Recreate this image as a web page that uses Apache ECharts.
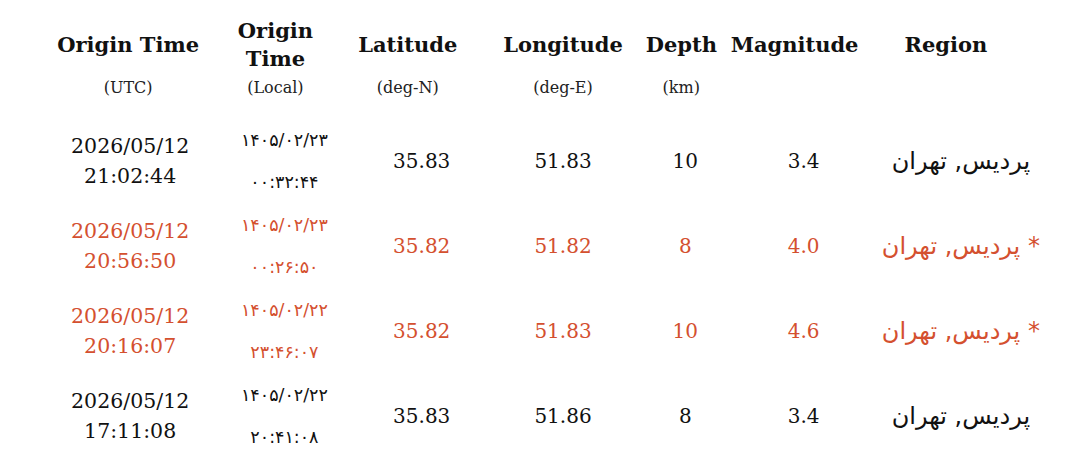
<!DOCTYPE html>
<html><head><meta charset="utf-8">
<script src="https://cdn.jsdelivr.net/npm/echarts@6/dist/echarts.min.js"></script>
<style>html,body{margin:0;padding:0;background:#fff}#c{width:1080px;height:472px}</style>
</head><body><div id="c"></div>
<script>
// ---- data ----
const columns = ['utc', 'local', 'lat', 'lon', 'depth', 'mag', 'region'];
const headerTitles = ['Origin Time', 'Origin\nTime', 'Latitude', 'Longitude', 'Depth', 'Magnitude', 'Region'];
const headerUnits = ['(UTC)', '(Local)', '(deg-N)', '(deg-E)', '(km)', '', ''];
const rowIds = ['e1', 'e2', 'e3', 'e4'];
const utcDates = ['2026/05/12', '2026/05/12', '2026/05/12', '2026/05/12'];
const utcTimes = ['21:02:44', '20:56:50', '20:16:07', '17:11:08'];
const localDates = ['۱۴۰۵/۰۲/۲۳', '۱۴۰۵/۰۲/۲۳', '۱۴۰۵/۰۲/۲۲', '۱۴۰۵/۰۲/۲۲'];
const localTimes = ['۰۰:۳۲:۴۴', '۰۰:۲۶:۵۰', '۲۳:۴۶:۰۷', '۲۰:۴۱:۰۸'];
const latitudes = [35.83, 35.82, 35.82, 35.83];
const longitudes = [51.83, 51.82, 51.83, 51.86];
const depths = [10, 8, 10, 8];
const magnitudes = [3.4, 4.0, 4.6, 3.4];
const regions = ['پردیس, تهران', 'پردیس, تهران', 'پردیس, تهران', 'پردیس, تهران'];
const flagged = [false, true, true, false];

// ---- layout / style (not data) ----
const headerNudge = [5, 12, 4, 19, -3, -30, -19];
const cellNudge = [7, 21, 18, 19, 1, -21, -4];
const BLACK = '#111111';
const RED = '#d4502f';
const SERIF = '"DejaVu Serif", "Liberation Serif", serif';
const SANS = '"DejaVu Sans", sans-serif';

const headerRich = {};
columns.forEach((c, i) => {
  const n = headerNudge[i] * 2;
  const pad = n >= 0 ? [0, 0, 0, n] : [0, -n, 0, 0];
  headerRich['h' + i] = { fontFamily: SERIF, fontWeight: 'bold', fontSize: 21, color: BLACK, lineHeight: 28, padding: pad };
  headerRich['H' + i] = { fontFamily: SERIF, fontWeight: 'bold', fontSize: 21, color: BLACK, lineHeight: 56, padding: pad };
  headerRich['s' + i] = { fontFamily: SERIF, fontSize: 16, color: '#222', lineHeight: 30, padding: pad };
});

function cellText(ci, r) {
  switch (columns[ci]) {
    case 'utc': return '{d|' + utcDates[r] + '}\n{d|' + utcTimes[r] + '}';
    case 'local': return '{p|' + localDates[r] + '}\n{p|' + localTimes[r] + '}';
    case 'lat': return '{n|' + latitudes[r].toFixed(2) + '}';
    case 'lon': return '{n|' + longitudes[r].toFixed(2) + '}';
    case 'depth': return '{n|' + depths[r] + '}';
    case 'mag': return '{n|' + magnitudes[r].toFixed(1) + '}';
    case 'region': return '{g|' + regions[r] + (flagged[r] ? ' *' : '') + '}';
  }
}

const cells = [];
rowIds.forEach((rid, r) => {
  const col = flagged[r] ? RED : BLACK;
  columns.forEach((c, ci) => {
    cells.push({
      value: [c, rid],
      label: {
        formatter: cellText(ci, r),
        offset: [cellNudge[ci], 0],
        rich: {
          d: { fontFamily: SERIF, fontSize: 20.5, color: col, lineHeight: 30 },
          p: { fontFamily: SANS, fontSize: 17.5, color: col, lineHeight: 42 },
          n: { fontFamily: SERIF, fontSize: 20, color: col, lineHeight: 30 },
          g: { fontFamily: SANS, fontSize: 24, color: col, lineHeight: 30 }
        }
      }
    });
  });
});

const chart = echarts.init(document.getElementById('c'), null, { renderer: 'svg' });
chart.setOption({
  backgroundColor: '#ffffff',
  animation: false,
  grid: { left: 53, right: 45, top: 118, bottom: 13, containLabel: false, outerBoundsMode: 'none' },
  xAxis: {
    type: 'category',
    position: 'top',
    data: columns,
    axisLine: { show: false },
    axisTick: { show: false },
    splitLine: { show: false },
    axisLabel: {
      interval: 0,
      hideOverlap: false,
      margin: 16,
      formatter: (val) => {
        const i = columns.indexOf(val);
        const t = headerTitles[i].split('\n');
        const head = t.length > 1 ? t.map(x => '{h' + i + '|' + x + '}').join('\n') : '{H' + i + '|' + t[0] + '}';
        return head + '\n{s' + i + '|' + (headerUnits[i] || ' ') + '}';
      },
      rich: headerRich
    }
  },
  yAxis: {
    type: 'category',
    data: rowIds,
    inverse: true,
    show: false
  },
  series: [{
    type: 'scatter',
    symbolSize: 0,
    silent: true,
    itemStyle: { opacity: 1 },
    label: { show: true, position: 'inside' },
    data: cells
  }]
});
</script>
</body></html>
